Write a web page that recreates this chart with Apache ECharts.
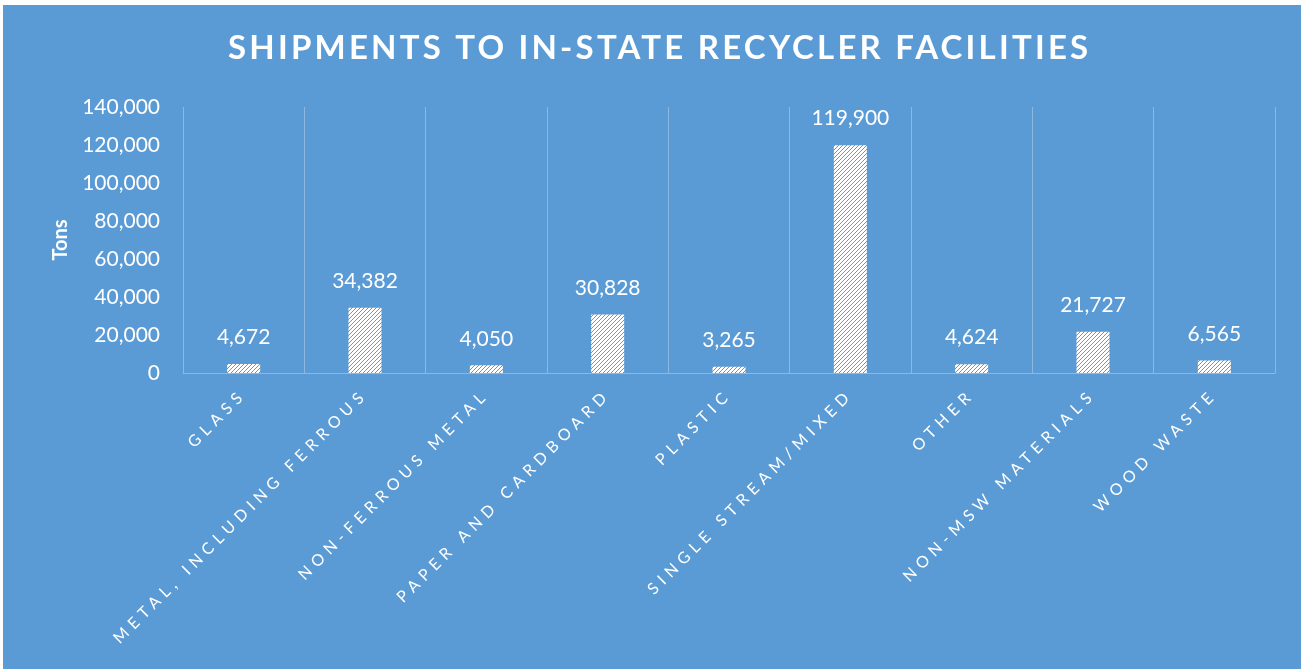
<!DOCTYPE html>
<html>
<head>
<meta charset="utf-8">
<script src="https://cdn.jsdelivr.net/npm/echarts@6/dist/echarts.min.js"></script>
<style>
  html, body { margin: 0; padding: 0; background: #ffffff; width: 1301px; height: 669px; overflow: hidden; }
  #chart { position: absolute; left: 3px; top: 5px; width: 1298px; height: 664px; }
</style>
</head>
<body>
<div id="chart"></div>
<script>
const titleText = 'SHIPMENTS TO IN-STATE RECYCLER FACILITIES';
const yAxisName = 'Tons';
const categories = ['GLASS', 'METAL, INCLUDING FERROUS', 'NON-FERROUS METAL', 'PAPER AND CARDBOARD', 'PLASTIC', 'SINGLE STREAM/MIXED', 'OTHER', 'NON-MSW MATERIALS', 'WOOD WASTE'];
const tons = [4672, 34382, 4050, 30828, 3265, 119900, 4624, 21727, 6565];
const yMin = 0;
const yMax = 140000;
const yStep = 20000;

const BG = '#5B9BD5';
const fmt = v => Number(v).toLocaleString('en-US');

// letter spacing for the spaced texts (title and category labels), keyed by font family
(function () {
  const proto = CanvasRenderingContext2D.prototype;
  const origFill = proto.fillText;
  const origStroke = proto.strokeText;
  function spacing(ctx) {
    const f = ctx.font || '';
    if (f.indexOf('Liberation Sans Narrow') >= 0) return '5.4px';
    if (f.indexOf('DejaVu Sans Condensed') >= 0) return '3.2px';
    return '0px';
  }
  proto.fillText = function () {
    if ('letterSpacing' in this) this.letterSpacing = spacing(this);
    return origFill.apply(this, arguments);
  };
  proto.strokeText = function () {
    if ('letterSpacing' in this) this.letterSpacing = spacing(this);
    return origStroke.apply(this, arguments);
  };
})();

// hatch tile: white with blue upward diagonal stripes
const TS = 4;
const tile = document.createElement('canvas');
tile.width = TS; tile.height = TS;
const tctx = tile.getContext('2d');
tctx.fillStyle = '#ffffff';
tctx.fillRect(0, 0, TS, TS);
tctx.fillStyle = BG;
for (let x = 0; x < TS; x++) {
  for (let y = 0; y < TS; y++) {
    if ((x + y) % 4 === 3) tctx.fillRect(x, y, 1, 1);
  }
}
const hatch = { image: tile, repeat: 'repeat' };

const chart = echarts.init(document.getElementById('chart'), null, { renderer: 'canvas', devicePixelRatio: 1 });
chart.setOption({
  backgroundColor: BG,
  animation: false,
  title: {
    text: titleText,
    left: 225,
    top: 27,
    padding: 0,
    textStyle: {
      color: '#ffffff',
      fontFamily: 'Lato, DejaVu Sans Condensed',
      fontWeight: 'bold',
      fontSize: 33
    }
  },
  grid: {
    left: 180,
    right: 26,
    top: 102,
    bottom: 296,
    outerBoundsMode: 'none'
  },
  xAxis: {
    type: 'category',
    data: categories,
    boundaryGap: true,
    axisLine: { show: true, lineStyle: { color: 'rgba(255,255,255,0.3)', width: 1 } },
    axisTick: { show: false },
    splitLine: { show: true, lineStyle: { color: 'rgba(255,255,255,0.3)', width: 1 } },
    axisLabel: {
      interval: 0,
      rotate: 45,
      margin: 19,
      color: '#ffffff',
      fontFamily: 'Lato, Liberation Sans Narrow',
      fontSize: 16
    }
  },
  yAxis: {
    type: 'value',
    min: yMin,
    max: yMax,
    interval: yStep,
    name: yAxisName,
    nameLocation: 'middle',
    nameGap: 112,
    nameRotate: 90,
    nameTextStyle: { color: '#ffffff', fontFamily: 'Lato', fontWeight: 'bold', fontSize: 20 },
    axisLine: { show: false },
    axisTick: { show: false },
    splitLine: { show: false },
    axisLabel: {
      color: '#ffffff',
      fontFamily: 'Lato',
      fontSize: 21,
      margin: 23,
      formatter: v => fmt(v)
    }
  },
  series: [{
    type: 'bar',
    data: tons,
    barWidth: 33,
    itemStyle: { color: hatch },
    label: {
      show: true,
      position: 'top',
      distance: 16,
      color: '#ffffff',
      fontFamily: 'Lato',
      fontSize: 21,
      formatter: p => fmt(p.value)
    }
  }]
});
</script>
</body>
</html>
